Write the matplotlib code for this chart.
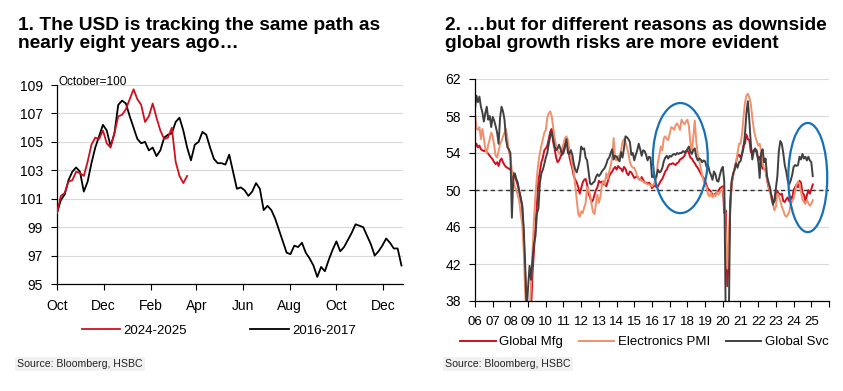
import numpy as np
import pandas as pd
import matplotlib
matplotlib.use('Agg')
import matplotlib.pyplot as plt
from matplotlib.patches import Ellipse

plt.rcParams['font.family'] = ['Liberation Sans', 'DejaVu Sans']

# ---- chart 1: DXY rebased, October = 100 (5-day steps from 1 Oct) ----
usd_2016 = [100.0, 100.9, 101.3, 102.3, 102.9, 103.2, 102.9, 101.5, 102.2, 103.5,
            104.6, 105.4, 106.2, 105.8, 104.7, 105.6, 107.6, 107.9, 107.7, 106.8,
            106.0, 105.2, 104.9, 105.0, 104.4, 104.6, 104.0, 104.4, 105.3, 105.5,
            105.6, 106.4, 106.7, 105.8, 104.6, 103.7, 104.8, 105.0, 105.7, 105.5,
            104.6, 103.8, 103.5, 103.5, 103.4, 104.1, 102.9, 101.7, 101.8, 101.6,
            101.2, 101.5, 102.1, 101.7, 100.2, 100.5, 100.2, 99.6, 98.8, 98.0,
            97.2, 97.1, 97.7, 97.6, 97.9, 97.2, 96.8, 96.3, 95.5, 96.2,
            95.9, 96.7, 97.4, 98.0, 97.3, 97.6, 98.1, 98.6, 99.2, 99.1,
            99.0, 98.4, 97.8, 97.0, 97.3, 97.7, 98.2, 97.9, 97.5, 97.5,
            96.3]
usd_2024 = [100.0, 101.2, 101.4, 102.2, 102.3, 102.9, 102.8, 102.6, 103.6, 104.8,
            105.3, 105.2, 105.8, 104.9, 104.6, 105.6, 106.8, 106.9, 107.3, 108.0,
            108.7, 108.0, 107.6, 106.4, 106.8, 107.7, 106.7, 105.8, 105.2, 105.3,
            106.0, 103.6, 102.6, 102.1, 102.6]
step_days = 5
month_ticks = ['2016-10-01', '2016-12-01', '2017-02-01', '2017-04-01',
               '2017-06-01', '2017-08-01', '2017-10-01', '2017-12-01']

# ---- chart 2: PMIs, monthly from Jan 2006 ----
global_mfg = [
    54.6, 55.0, 54.6, 54.8, 54.4, 54.3, 54.2, 54.3, 54.1, 53.9, 53.7, 53.5,
    53.3, 53.0, 52.8, 53.0, 52.6, 53.2, 53.4, 53.0, 52.7, 52.5, 52.4, 52.3,
    52.2, 52.0, 51.8, 51.4, 51.0, 50.5, 49.9, 49.2, 48.3, 45.0, 41.0, 37.0,
    34.5, 35.5, 37.0, 41.0, 43.5, 46.0, 48.5, 51.0, 52.0, 53.0, 53.5, 54.3,
    54.5, 54.8, 55.5, 56.3, 56.6, 55.2, 54.4, 53.5, 53.0, 53.2, 53.6, 54.0,
    54.5, 55.0, 55.2, 54.7, 53.6, 52.9, 52.3, 51.5, 51.1, 50.8, 50.3, 49.6,
    50.2, 50.8, 51.1, 51.2, 50.6, 49.6, 49.2, 48.7, 48.9, 49.5, 50.0, 50.3,
    51.0, 50.8, 50.9, 50.6, 50.7, 50.4, 50.9, 51.5, 51.8, 52.0, 52.3, 52.5,
    52.2, 52.6, 52.4, 52.3, 52.0, 52.5, 52.3, 51.8, 51.6, 52.0, 51.9, 51.6,
    51.3, 51.4, 51.5, 51.2, 51.1, 51.4, 51.1, 50.8, 50.8, 50.7, 50.8, 50.6,
    50.2, 50.4, 50.5, 50.3, 50.4, 50.7, 51.0, 51.2, 51.6, 52.0, 52.2, 52.6,
    52.8, 52.8, 52.9, 52.8, 52.7, 52.9, 53.0, 53.3, 53.4, 53.5, 53.7, 54.1,
    54.3, 54.0, 53.5, 53.4, 53.1, 52.9, 52.6, 52.4, 52.1, 51.8, 51.5, 51.3,
    51.0, 50.5, 50.1, 50.0, 49.8, 49.5, 49.5, 49.6, 49.8, 49.9, 50.2, 50.3,
    50.4, 47.5, 47.8, 39.6, 42.4, 47.8, 50.6, 51.6, 52.3, 53.0, 53.7, 53.8,
    53.5, 53.9, 54.8, 55.0, 56.0, 55.5, 55.4, 54.1, 54.1, 54.3, 54.2, 54.3,
    53.2, 53.6, 52.9, 52.3, 52.3, 52.2, 51.1, 50.3, 49.8, 49.4, 48.8, 48.7,
    49.1, 49.9, 49.6, 49.5, 49.6, 48.8, 48.7, 49.0, 49.2, 48.8, 49.3, 49.0,
    50.0, 50.3, 50.6, 50.3, 51.0, 50.8, 49.7, 49.5, 48.8, 49.4, 50.0, 49.6,
    50.1, 50.6]
electronics_pmi = [
    58.2, 56.7, 56.5, 56.8, 55.5, 56.6, 55.6, 54.5, 54.0, 54.9, 55.5, 56.2,
    55.8, 54.8, 53.7, 53.5, 54.2, 55.0, 55.3, 55.8, 56.2, 56.6, 55.6, 54.0,
    53.6, 52.0, 51.0, 50.3, 50.0, 49.4, 48.8, 47.4, 46.3, 43.5, 39.0, 35.5,
    34.0, 36.5, 40.0, 43.5, 46.8, 49.5, 51.5, 53.0, 54.0, 54.8, 55.5, 56.2,
    56.5, 57.8, 58.3, 58.5, 58.0, 56.8, 55.6, 54.8, 54.3, 53.9, 54.1, 54.5,
    55.0, 55.6, 55.8, 55.4, 54.3, 53.5, 52.7, 51.9, 50.4, 48.9, 47.4, 47.1,
    47.7, 47.5, 48.1, 48.6, 50.3, 50.0, 49.5, 48.5, 47.6, 47.4, 48.5, 49.5,
    48.6, 49.3, 50.5, 51.0, 50.6, 51.8, 51.2, 52.0, 52.6, 53.5, 55.6, 53.3,
    53.2, 53.7, 53.4, 54.2, 55.2, 55.5, 55.2, 54.6, 54.0, 53.0, 52.6, 52.4,
    52.4, 52.0, 51.5, 51.2, 51.2, 51.0, 50.9, 50.8, 50.7, 50.6, 50.6, 50.5,
    50.4, 50.6, 50.9, 51.3, 53.0, 53.8, 54.7, 54.3, 55.6, 55.8, 55.5, 55.4,
    56.1, 56.8, 56.7, 56.5, 57.0, 57.2, 56.9, 56.5, 57.6, 57.3, 57.1, 57.4,
    57.6, 56.9, 55.2, 54.0, 55.8, 57.5, 55.3, 53.9, 53.2, 52.4, 51.6, 51.0,
    50.6, 50.3, 49.5, 49.3, 49.7, 49.2, 49.5, 49.3, 49.8, 49.5, 49.7, 50.0,
    50.2, 49.0, 45.5, 41.5, 44.0, 48.5, 50.8, 51.5, 52.3, 53.0, 54.0, 55.0,
    55.0, 56.0, 57.8, 59.4, 60.2, 60.4, 60.0, 59.3, 57.8, 56.6, 55.8, 55.3,
    54.8, 55.0, 54.2, 53.0, 52.3, 52.0, 51.2, 50.5, 49.8, 49.0, 48.5, 47.8,
    48.2, 49.6, 49.4, 48.8, 48.2, 47.8, 47.3, 47.1, 47.3, 47.6, 48.4, 48.8,
    49.1, 49.8, 50.6, 50.9, 50.7, 49.8, 49.0, 48.7, 48.5, 48.9, 48.6, 48.3,
    48.5, 48.9]
global_svc = [
    58.8, 60.2, 59.5, 60.1, 59.0, 58.4, 57.4, 58.3, 59.0, 57.6, 58.0, 56.8,
    57.9, 57.5, 56.9, 56.2, 55.0, 57.8, 59.0, 58.5, 57.6, 55.5, 54.6, 54.4,
    54.0, 47.0, 51.5, 51.8, 51.2, 50.8, 49.8, 49.0, 48.3, 46.0, 42.0, 37.0,
    39.5, 41.8, 40.3, 42.5, 44.2, 45.0, 47.5, 48.0, 50.8, 51.8, 52.2, 52.8,
    53.5, 54.0, 55.0, 55.8, 56.3, 55.5, 54.7, 54.3, 54.5, 54.9, 54.4, 53.8,
    54.0, 54.6, 55.5, 54.0, 53.9, 54.3, 53.8, 52.8, 52.2, 51.9, 52.5, 53.2,
    54.7, 54.4, 54.5, 53.5, 53.2, 52.0, 50.7, 50.6, 50.8, 50.9, 51.4, 51.7,
    51.5, 51.7, 52.0, 52.2, 52.4, 52.8, 53.3, 53.5, 54.0, 54.4, 53.3, 53.7,
    53.6, 53.3, 53.1, 54.1, 53.5, 54.5, 55.8, 55.7, 55.5, 55.2, 53.8, 54.0,
    53.2, 53.8, 54.3, 55.0, 54.4, 53.7, 54.3, 54.2, 53.8, 53.2, 53.6, 53.5,
    51.4, 51.5, 51.2, 51.5, 52.2, 51.9, 52.0, 52.4, 53.1, 53.5, 53.7, 53.4,
    53.7, 53.6, 53.8, 53.9, 53.8, 54.0, 53.9, 54.0, 54.0, 54.2, 54.1, 54.2,
    54.4, 54.7, 54.1, 53.9, 54.3, 54.5, 53.6, 53.2, 53.4, 53.3, 53.0, 53.2,
    53.1, 52.5, 52.7, 52.0, 51.6, 51.1, 52.0, 51.7, 51.0, 50.9, 51.6, 52.2,
    52.5, 50.9, 36.0, 24.0, 35.0, 48.6, 51.0, 51.8, 52.2, 52.9, 52.4, 53.0,
    53.1, 53.8, 54.5, 56.0, 58.3, 59.6, 57.5, 55.0, 53.3, 54.2, 54.5, 54.0,
    53.3, 51.3, 54.0, 54.4, 53.0, 53.4, 51.5, 50.8, 50.3, 49.3, 48.4, 49.0,
    50.2, 51.5, 54.2, 55.3, 55.0, 54.0, 52.7, 52.0, 51.0, 50.6, 51.0, 51.6,
    52.5, 52.7, 52.6, 52.7, 53.6, 53.3, 53.9, 53.4, 53.6, 53.2, 53.6, 53.2,
    53.0, 51.5]
year_labels = ['%02d' % y for y in range(6, 26)]

RED = '#d0101e'
ORANGE = '#f0906c'
DARK = '#404040'
BLUE = '#1670b8'
GRID = '#d9d9d9'

fig = plt.figure(figsize=(8.43, 3.91), dpi=100)

# ---------------- chart 1 ----------------
ax1 = fig.add_axes([57 / 843, 1 - 284 / 391, 346 / 843, 199 / 391])
base = pd.Timestamp(month_ticks[0])
tick_days = [(pd.Timestamp(d) - base).days for d in month_ticks]
tick_names = [pd.Timestamp(d).strftime('%b') for d in month_ticks]

d16 = np.arange(len(usd_2016)) * step_days
d24 = np.arange(len(usd_2024)) * step_days
ax1.plot(d24, usd_2024, color=RED, lw=1.3, label='2024-2025', zorder=3)
ax1.plot(d16, usd_2016, color='black', lw=1.3, label='2016-2017', zorder=2)

ax1.set_xlim(0, 452)
ax1.set_ylim(95, 109)
ax1.set_yticks(np.arange(95, 110, 2))
ax1.set_xticks(tick_days)
ax1.set_xticklabels(tick_names)
ax1.grid(axis='y', color=GRID, lw=0.8)
ax1.set_axisbelow(True)
ax1.text(0.003, 1.0, 'October=100', transform=ax1.transAxes, fontsize=8.5,
         va='baseline', ha='left')
ax1.legend(loc='center', bbox_to_anchor=(0.468, -0.236), ncol=2, frameon=False,
           fontsize=9.5, handlelength=2.9, handletextpad=0.25, columnspacing=4.8)

# ---------------- chart 2 ----------------
ax2 = fig.add_axes([475 / 843, 1 - 301 / 391, 354 / 843, 222 / 391])
yrs = 2006 + np.arange(len(global_mfg)) / 12
ax2.plot(yrs, global_mfg, color=RED, lw=1.4, label='Global Mfg')
ax2.plot(yrs, electronics_pmi, color=ORANGE, lw=1.4, label='Electronics PMI')
ax2.plot(yrs, global_svc, color=DARK, lw=1.4, label='Global Svc')
ax2.axhline(50, color='#333333', lw=1.0, ls=(0, (3, 2.5)), zorder=1)

ax2.set_xlim(2006, 2026)
ax2.set_ylim(38, 62)
ax2.set_yticks(np.arange(38, 63, 4))
ax2.set_xticks(np.arange(2006, 2027))
ax2.set_xticklabels(year_labels + [''])
ax2.grid(axis='y', color=GRID, lw=0.8)
ax2.set_axisbelow(True)

# highlight ellipses (centre year, centre value, width in years, height in pts)
for cx, cy, w, h in [(2017.6, 53.45, 3.1, 11.9), (2024.8, 51.35, 2.2, 11.8)]:
    ax2.add_patch(Ellipse((cx, cy), w, h, fill=False, edgecolor=BLUE, lw=1.6, zorder=5))

ax2.legend(loc='center', bbox_to_anchor=(0.478, -0.185), ncol=3, frameon=False,
           fontsize=9.5, handlelength=2.7, handletextpad=0.25, columnspacing=1.2)

for ax in (ax1, ax2):
    for s in ('top', 'right'):
        ax.spines[s].set_visible(False)
    for s in ('left', 'bottom'):
        ax.spines[s].set_linewidth(0.9)
    ax.tick_params(axis='both', direction='out', length=4, width=0.8,
                   labelsize=10)
    ax.tick_params(axis='y', pad=6)
    ax.tick_params(axis='x', pad=7)
ax2.tick_params(axis='x', labelsize=9.5)

# titles and sources
fig.text(18 / 843, 1 - 17 / 391,
         '1. The USD is tracking the same path as\nnearly eight years ago\u2026',
         fontsize=13.8, fontweight='bold', va='top', ha='left', linespacing=1.08)
fig.text(445 / 843, 1 - 17 / 391,
         '2. \u2026but for different reasons as downside\nglobal growth risks are more evident',
         fontsize=13.8, fontweight='bold', va='top', ha='left', linespacing=1.08)
for x in (17, 445):
    fig.text(x / 843, 1 - 364 / 391, 'Source: Bloomberg, HSBC', fontsize=7.6,
             va='center', ha='left', color='#222222',
             bbox=dict(facecolor='#f1f1f1', edgecolor='none', pad=1.5))

fig.savefig('out.png', dpi=100)
